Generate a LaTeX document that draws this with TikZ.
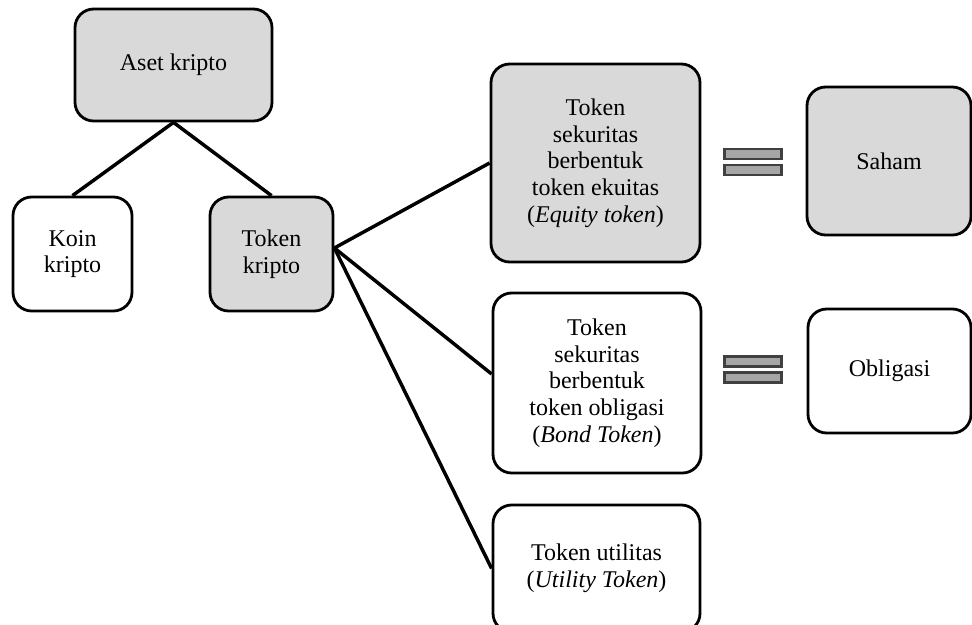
\documentclass[tikz,border=0pt]{standalone}
\usepackage{fontspec}
\setmainfont{Liberation Serif}
\begin{document}
\begin{tikzpicture}[x=0.75pt,y=-0.75pt,
  box/.style={draw=black,line width=2.1pt,rounded corners=14pt,align=center,
    inner sep=2pt,font=\fontsize{18}{20}\selectfont},
  shaded/.style={box,fill=boxgray},
  plain/.style={box,fill=white},
  link/.style={draw=black,line width=2.6pt},
  bar/.style={draw=bardark,fill=barfill,line width=2.2pt,minimum width=42.75pt,
    minimum height=7.5pt,inner sep=0pt}]
\definecolor{boxgray}{HTML}{D9D9D9}
\definecolor{barfill}{HTML}{A6A6A6}
\definecolor{bardark}{HTML}{404040}
\useasboundingbox (0,0) rectangle (972,625);

% tree on the left
\node[shaded,minimum width=147.75pt,minimum height=84pt] (aset) at (173.5,65) {Aset kripto};
\node[plain,minimum width=89.25pt,minimum height=85.5pt] (koin) at (72.5,254) {Koin\\kripto};
\node[shaded,minimum width=92.25pt,minimum height=85.5pt] (tokk) at (271.5,254) {Token\\kripto};

% kinds of token
\node[shaded,minimum width=156.75pt,minimum height=148.5pt] (equity) at (595.5,163)
  {Token\\sekuritas\\berbentuk\\token ekuitas\\(\textit{Equity token})};
\node[plain,minimum width=156pt,minimum height=135pt] (bond) at (597,383)
  {Token\\sekuritas\\berbentuk\\token obligasi\\(\textit{Bond Token})};
\node[plain,minimum width=155.25pt,minimum height=95.25pt] (util) at (596.5,568.5)
  {Token utilitas\\(\textit{Utility Token})};

% equivalents
\node[shaded,minimum width=123pt,minimum height=111pt] (saham) at (889,161) {Saham};
\node[plain,minimum width=122.25pt,minimum height=93pt] (obl) at (889.5,371) {Obligasi};

% equal signs
\node[bar] (eqtop) at (753,154) {};
\node[bar] (eqbot) at (753,170) {};
\node[bar] (bdtop) at (753,361.5) {};
\node[bar] (bdbot) at (753,377.5) {};

% connectors
\coordinate (hub) at ([yshift=4.5pt]tokk.east);
\draw[link] (aset.south) -- (koin.north);
\draw[link] (aset.south) -- (tokk.north);
\draw[link] (hub) -- (equity.west);
\draw[link] (hub) -- ([yshift=6.75pt]bond.west);
\draw[link] (hub) -- (util.west);
\end{tikzpicture}
\end{document}
